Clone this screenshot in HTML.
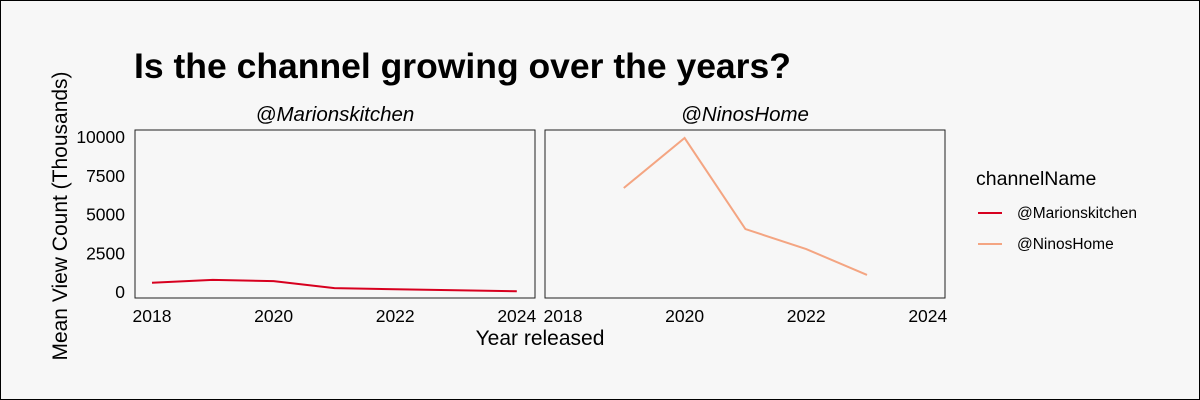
<!DOCTYPE html>
<html><head><meta charset="utf-8"><style>
body{margin:0;background:#fff}
svg{display:block;font-family:"Liberation Sans",sans-serif}
</style></head><body>
<svg width="1200" height="400">
<rect x="0.5" y="0.5" width="1199" height="399" fill="#f7f7f7" stroke="#000"/>
<text x="134" y="78" font-size="35.5" font-weight="bold">Is the channel growing over the years?</text>
<g id="plots"></g>
<text x="540" y="345" font-size="21" text-anchor="middle">Year released</text>
<text transform="translate(67,216) rotate(-90)" font-size="21" text-anchor="middle">Mean View Count (Thousands)</text>
<g>
<text x="976" y="185" font-size="19.5">channelName</text>
<g><line x1="978" y1="213" x2="1002" y2="213" stroke="#d7001f" stroke-width="2"/><text x="1017" y="218" font-size="15.5">@Marionskitchen</text></g>
<g><line x1="978" y1="244" x2="1002" y2="244" stroke="#f4a582" stroke-width="2"/><text x="1017" y="249" font-size="15.5">@NinosHome</text></g>
</g>
</svg>
<script>
const years = [2018, 2019, 2020, 2021, 2022, 2023, 2024];
const marionValues = [600, 780, 700, 250, 180, 110, 50];
const ninosYears = [2019, 2020, 2021, 2022, 2023];
const ninosValues = [6710, 9935, 4060, 2770, 1100];
const xTicks = [2018, 2020, 2022, 2024];
const yTicks = [0, 2500, 5000, 7500, 10000];
const NS = 'http://www.w3.org/2000/svg';
const g = document.getElementById('plots');
function yS(v){ return 292 - v * 0.0155; }
function mk(tag, attrs, parent){ const e=document.createElementNS(NS,tag); for(const k in attrs) e.setAttribute(k,attrs[k]); parent.appendChild(e); return e; }
const panels = [
 {left:135, right:535, x0:152, name:'marionskitchen', title:'@Marionskitchen', xs:years, vs:marionValues, color:'#d7001f'},
 {left:545, right:945, x0:563, name:'ninoshome', title:'@NinosHome', xs:ninosYears, vs:ninosValues, color:'#f4a582'}
];
panels.forEach((p, i) => {
  const xS = yr => p.x0 + (yr - 2018) * 60.8;
  const pg = mk('g', {}, g);
  
  
  const t = mk('text', {x:(p.left+p.right)/2, y:121, 'font-size':20.5, 'font-style':'italic', 'text-anchor':'middle'}, pg);
  t.textContent = p.title;
  
  
  const r = mk('rect', {x:p.left, y:130, width:p.right-p.left, height:168, fill:'none', stroke:'#222', 'stroke-width':1}, pg);
  
  
  xTicks.forEach(tk => {
    const tx = mk('text', {x:xS(tk), y:322, 'font-size':17.5, 'text-anchor':'middle'}, pg);
    tx.textContent = tk;
    
    
  });
  if (i === 0) {
    yTicks.forEach(tk => {
      const ty = mk('text', {x:125, y:yS(tk)+6, 'font-size':17.5, 'text-anchor':'end'}, pg);
      ty.textContent = tk;
      
      
    });
  }
  const pts = p.xs.map((yr, j) => xS(yr) + ',' + yS(p.vs[j])).join(' ');
  const l = mk('polyline', {points:pts, fill:'none', stroke:p.color, 'stroke-width':2}, pg);
  
  
});
</script>
</body></html>
